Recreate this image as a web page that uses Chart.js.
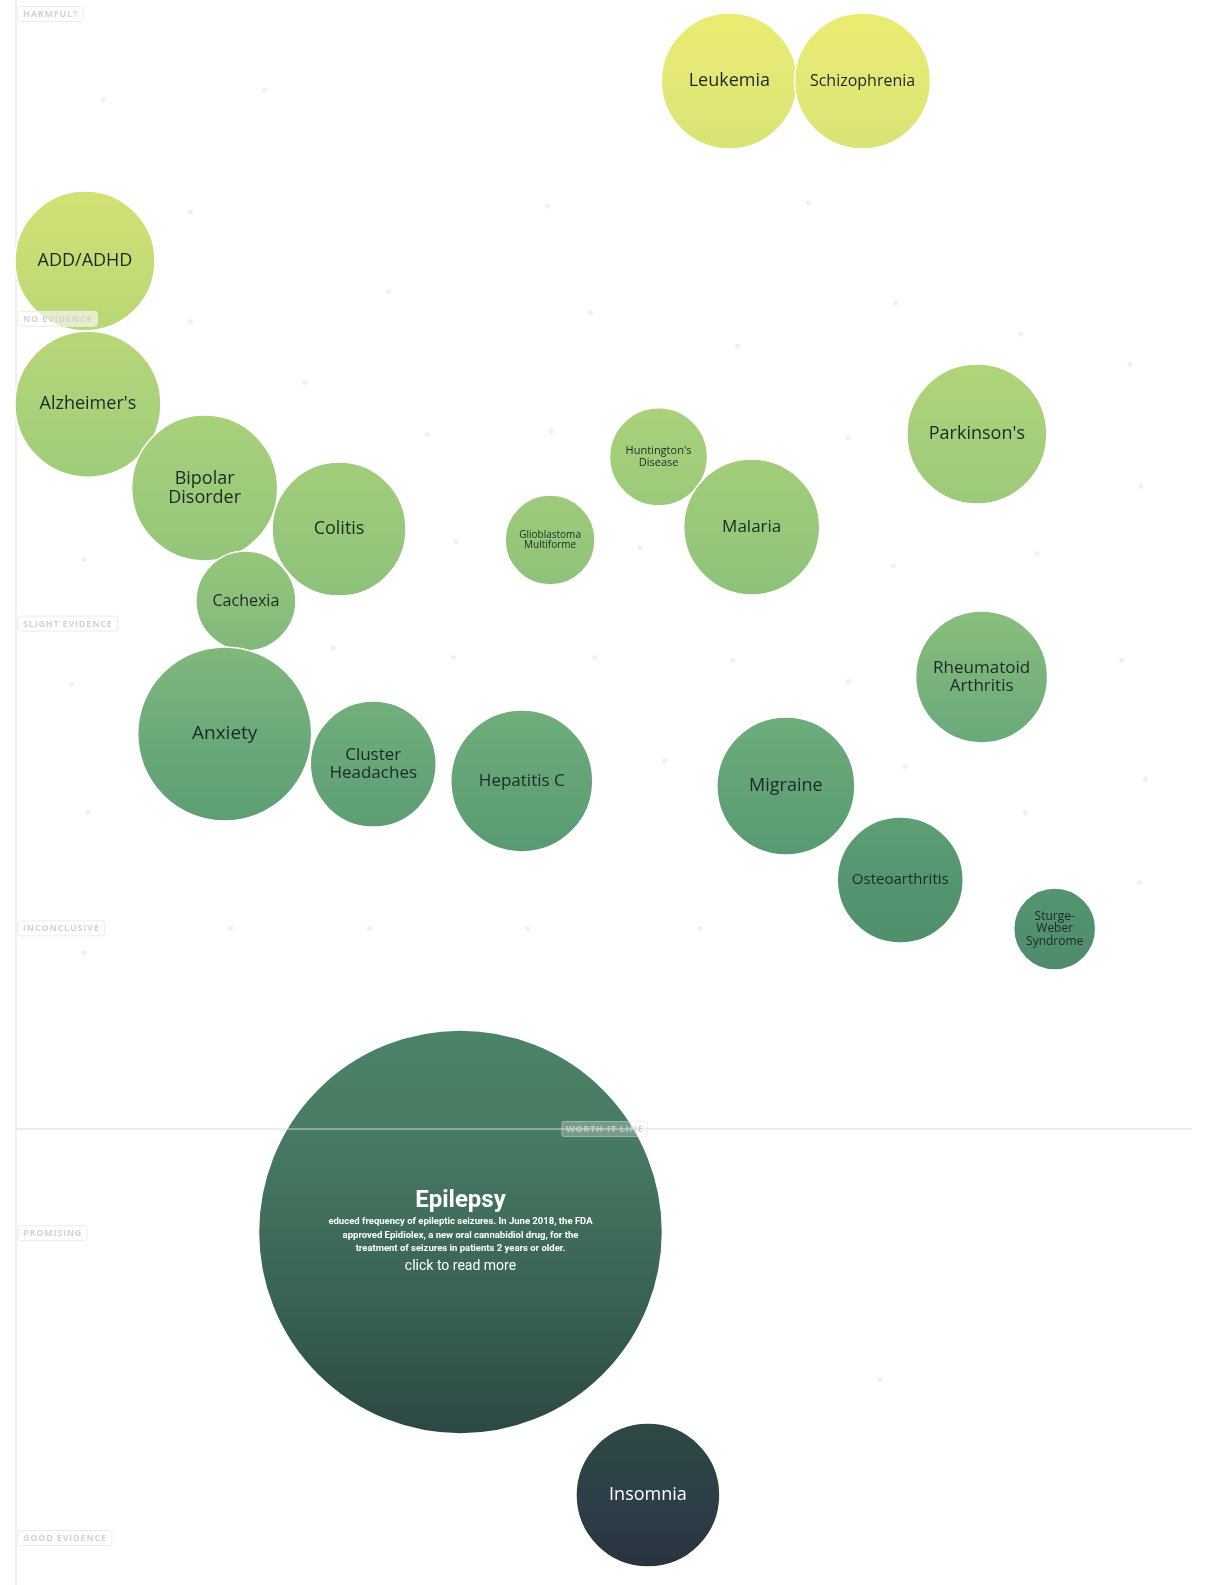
<!DOCTYPE html>
<html>
<head>
<meta charset="utf-8">
<script src="https://cdn.jsdelivr.net/npm/chart.js@4.4.1/dist/chart.umd.min.js"></script>
<style>
    html, body {margin: 0; padding: 0; background: #ffffff; overflow: hidden;}
    #bubbleChart {display: block; width: 1219px; height: 1585px;}
</style>
</head>
<body>
<canvas id="bubbleChart" width="1219" height="1585"></canvas>
<script>
// ---------- Data ----------
// x: horizontal spread (0-100), y: evidence level (0 = harmful ... 5 = good evidence), r: bubble size
const conditions = ['Leukemia', 'Schizophrenia', 'ADD/ADHD', "Alzheimer's", 'Bipolar\nDisorder', 'Colitis', 'Cachexia',
    'Glioblastoma\nMultiforme', "Huntington's\nDisease", 'Malaria', "Parkinson's", 'Rheumatoid\nArthritis', 'Anxiety',
    'Cluster\nHeadaches', 'Hepatitis C', 'Migraine', 'Osteoarthritis', 'Sturge-\nWeber\nSyndrome', 'Epilepsy', 'Insomnia']
const spreadX = [60.5, 71.8, 5.85, 6.1, 16.0, 27.4, 19.5, 45.3, 54.5, 62.4, 81.5, 81.9, 17.7, 30.3, 42.9, 65.3, 75.0, 88.1, 37.7, 53.6]
const evidenceY = [0.22, 0.22, 0.81, 1.28, 1.555, 1.69, 1.926, 1.726, 1.453, 1.683, 1.378, 2.175, 2.362, 2.461, 2.516, 2.533, 2.841, 3.002, 3.996, 4.859]
const bubbleSize = [68, 68, 70, 73, 73, 67, 50, 45, 49, 68, 70, 66, 87, 63, 71, 69, 63, 41, 202, 72]

const levelLabels = ['HARMFUL?', 'NO EVIDENCE', 'SLIGHT EVIDENCE', 'INCONCLUSIVE', 'PROMISING', 'GOOD EVIDENCE']
const levelValues = [0, 1, 2, 3, 4, 5]
const worthItLine = 3.658

const epilepsyText = ['educed frequency of epileptic seizures. In June 2018, the FDA',
    'approved Epidiolex, a new oral cannabidiol drug, for the',
    'treatment of seizures in patients 2 years or older.']

// faint background dots
const dustX = [21.1, 7.4, 14.8, 45.1, 67.2, 31.6, 14.8, 48.7, 61.2, 74.6, 85.2, 94.5, 24.5, 34.9, 45.4, 70.6, 95.4, 37.3,
    52.9, 74.4, 86.6, 5.8, 26.9, 37.1, 49.1, 60.8, 70.6, 93.8, 4.7, 55.0, 75.4, 95.8, 6.1, 85.6, 95.3, 18.2, 30.0, 43.4, 58.0, 5.8, 73.3]
const dustY = [0.25, 0.28, 0.65, 0.63, 0.62, 0.91, 1.01, 0.98, 1.09, 0.95, 1.05, 1.15, 1.21, 1.38, 1.37, 1.39, 1.55, 1.73,
    1.75, 1.81, 1.77, 1.79, 2.08, 2.11, 2.11, 2.12, 2.19, 2.12, 2.20, 2.45, 2.47, 2.51, 2.62, 2.62, 2.85, 3.0, 3.0, 3.0, 3.0, 3.08, 4.48]

// label font sizes (px) per bubble
const labelSizes = {
    'Leukemia': 18, 'Schizophrenia': 16, 'ADD/ADHD': 18, "Alzheimer's": 18, 'Bipolar\nDisorder': 18, 'Colitis': 18,
    'Cachexia': 16, 'Glioblastoma\nMultiforme': 10, "Huntington's\nDisease": 11, 'Malaria': 17, "Parkinson's": 18,
    'Rheumatoid\nArthritis': 17, 'Anxiety': 19, 'Cluster\nHeadaches': 17, 'Hepatitis C': 17, 'Migraine': 18,
    'Osteoarthritis': 15, 'Sturge-\nWeber\nSyndrome': 12, 'Insomnia': 18
}

const Chart = window.Chart
let fillGradient = null

// vertical yellow -> dark slate gradient over the whole canvas
const bubbleFill = (context) => {
    const chart = context.chart
    if (!chart.chartArea) return '#8cc07a'
    if (fillGradient) return fillGradient
    const g = chart.ctx.createLinearGradient(0, 0, 0, chart.height)
    g.addColorStop(0.0, '#ebec70')
    g.addColorStop(0.05, '#e4e876')
    g.addColorStop(0.164, '#c6dd74')
    g.addColorStop(0.255, '#abd17a')
    g.addColorStop(0.334, '#98c87a')
    g.addColorStop(0.38, '#8cc07b')
    g.addColorStop(0.463, '#6baa7b')
    g.addColorStop(0.555, '#549670')
    g.addColorStop(0.65, '#4c8468')
    g.addColorStop(0.72, '#477a63')
    g.addColorStop(0.84, '#355d4f')
    g.addColorStop(0.9, '#2d4944')
    g.addColorStop(0.95, '#2d3e48')
    g.addColorStop(1.0, '#27303b')
    fillGradient = g
    return g
}

const roundRect = (ctx, x, y, w, h, r) => {
    ctx.beginPath()
    ctx.moveTo(x + r, y)
    ctx.arcTo(x + w, y, x + w, y + h, r)
    ctx.arcTo(x + w, y + h, x, y + h, r)
    ctx.arcTo(x, y + h, x, y, r)
    ctx.arcTo(x, y, x + w, y, r)
    ctx.closePath()
}

// axis line, level tags, worth-it line and the bubble texts
const decorations = {
    id: 'decorations',
    beforeDatasetsDraw(chart) {
        const {ctx, chartArea} = chart
        ctx.save()
        ctx.strokeStyle = '#efefef'
        ctx.lineWidth = 2
        ctx.beginPath()
        ctx.moveTo(chartArea.left, 0)
        ctx.lineTo(chartArea.left, chart.height)
        ctx.stroke()
        ctx.restore()
    },
    afterDatasetsDraw(chart) {
        const {ctx, chartArea, scales} = chart
        ctx.save()

        // level tags on the left
        ctx.font = 'bold 9px "Open Sans"'
        ctx.letterSpacing = '0.8px'
        ctx.textBaseline = 'middle'
        ctx.textAlign = 'left'
        levelLabels.forEach((text, i) => {
            const y = scales.y.getPixelForValue(levelValues[i])
            const w = ctx.measureText(text).width + 10
            roundRect(ctx, chartArea.left + 2, y - 7.5, w, 15, 3)
            ctx.fillStyle = 'rgba(255,255,255,0.6)'
            ctx.fill()
            ctx.strokeStyle = '#ececec'
            ctx.lineWidth = 1
            ctx.stroke()
            ctx.fillStyle = '#d3d3d3'
            ctx.fillText(text, chartArea.left + 7, y + 0.5)
        })

        // worth it line
        const wy = scales.y.getPixelForValue(worthItLine)
        ctx.strokeStyle = 'rgba(215,215,215,0.5)'
        ctx.lineWidth = 2
        ctx.beginPath()
        ctx.moveTo(chartArea.left, wy)
        ctx.lineTo(chartArea.right - 3, wy)
        ctx.stroke()
        const wx = scales.x.getPixelForValue(46.3)
        const wt = 'WORTH IT LINE'
        const ww = ctx.measureText(wt).width + 8
        roundRect(ctx, wx, wy - 7.5, ww, 15, 2)
        ctx.fillStyle = 'rgba(255,255,255,0.25)'
        ctx.fill()
        ctx.strokeStyle = 'rgba(225,225,225,0.5)'
        ctx.lineWidth = 1
        ctx.stroke()
        ctx.fillStyle = 'rgba(200,206,203,0.95)'
        ctx.fillText(wt, wx + 4, wy + 0.5)
        ctx.letterSpacing = '0px'

        // bubble labels
        const meta = chart.getDatasetMeta(1)
        ctx.textAlign = 'center'
        meta.data.forEach((el, i) => {
            const name = conditions[i]
            const {x, y} = el.getProps(['x', 'y'], true)
            if (name === 'Epilepsy') {
                ctx.fillStyle = '#ffffff'
                ctx.font = 'bold 24px Roboto'
                ctx.fillText('Epilepsy', x, y - 31)
                ctx.font = 'bold 9.5px Roboto'
                epilepsyText.forEach((line, k) => ctx.fillText(line, x, y - 10 + k * 13.5))
                ctx.font = '14px Roboto'
                ctx.fillText('click to read more', x, y + 35)
                return
            }
            const size = labelSizes[name]
            const lines = name.split('\n')
            ctx.font = size + 'px "Open Sans"'
            ctx.fillStyle = evidenceY[i] > 3.5 ? '#ffffff' : '#1c2826'
            const lh = size * 1.05
            lines.forEach((line, k) => {
                ctx.fillText(line, x, y + (k - (lines.length - 1) / 2) * lh)
            })
        })
        ctx.restore()
    }
}

const bubbleCtx = document.getElementById('bubbleChart').getContext('2d')
const bubbleChart = new Chart(bubbleCtx, {
    type: 'bubble',
    data: {
        datasets: [{
            label: 'dust',
            data: dustX.map((x, i) => ({x: x, y: dustY[i], r: 2.5})),
            backgroundColor: '#f0f0f0',
            borderWidth: 0,
            order: 2
        }, {
            label: 'Conditions',
            data: conditions.map((name, i) => ({x: spreadX[i], y: evidenceY[i], r: bubbleSize[i]})),
            backgroundColor: bubbleFill,
            borderColor: '#ffffff',
            borderWidth: 1.5,
            clip: false,
            order: 1
        }]
    },
    options: {
        responsive: false, animation: false, events: [], devicePixelRatio: 1,
        layout: {autoPadding: false, padding: {left: 16, right: 24, top: 14, bottom: 47}},
        plugins: {legend: {display: false}, tooltip: {enabled: false}},
        scales: {
            x: {type: 'linear', min: 0, max: 100, display: false},
            y: {type: 'linear', min: 0, max: 5, reverse: true, display: false}
        }
    },
    plugins: [decorations]
})
</script>
</body>
</html>
